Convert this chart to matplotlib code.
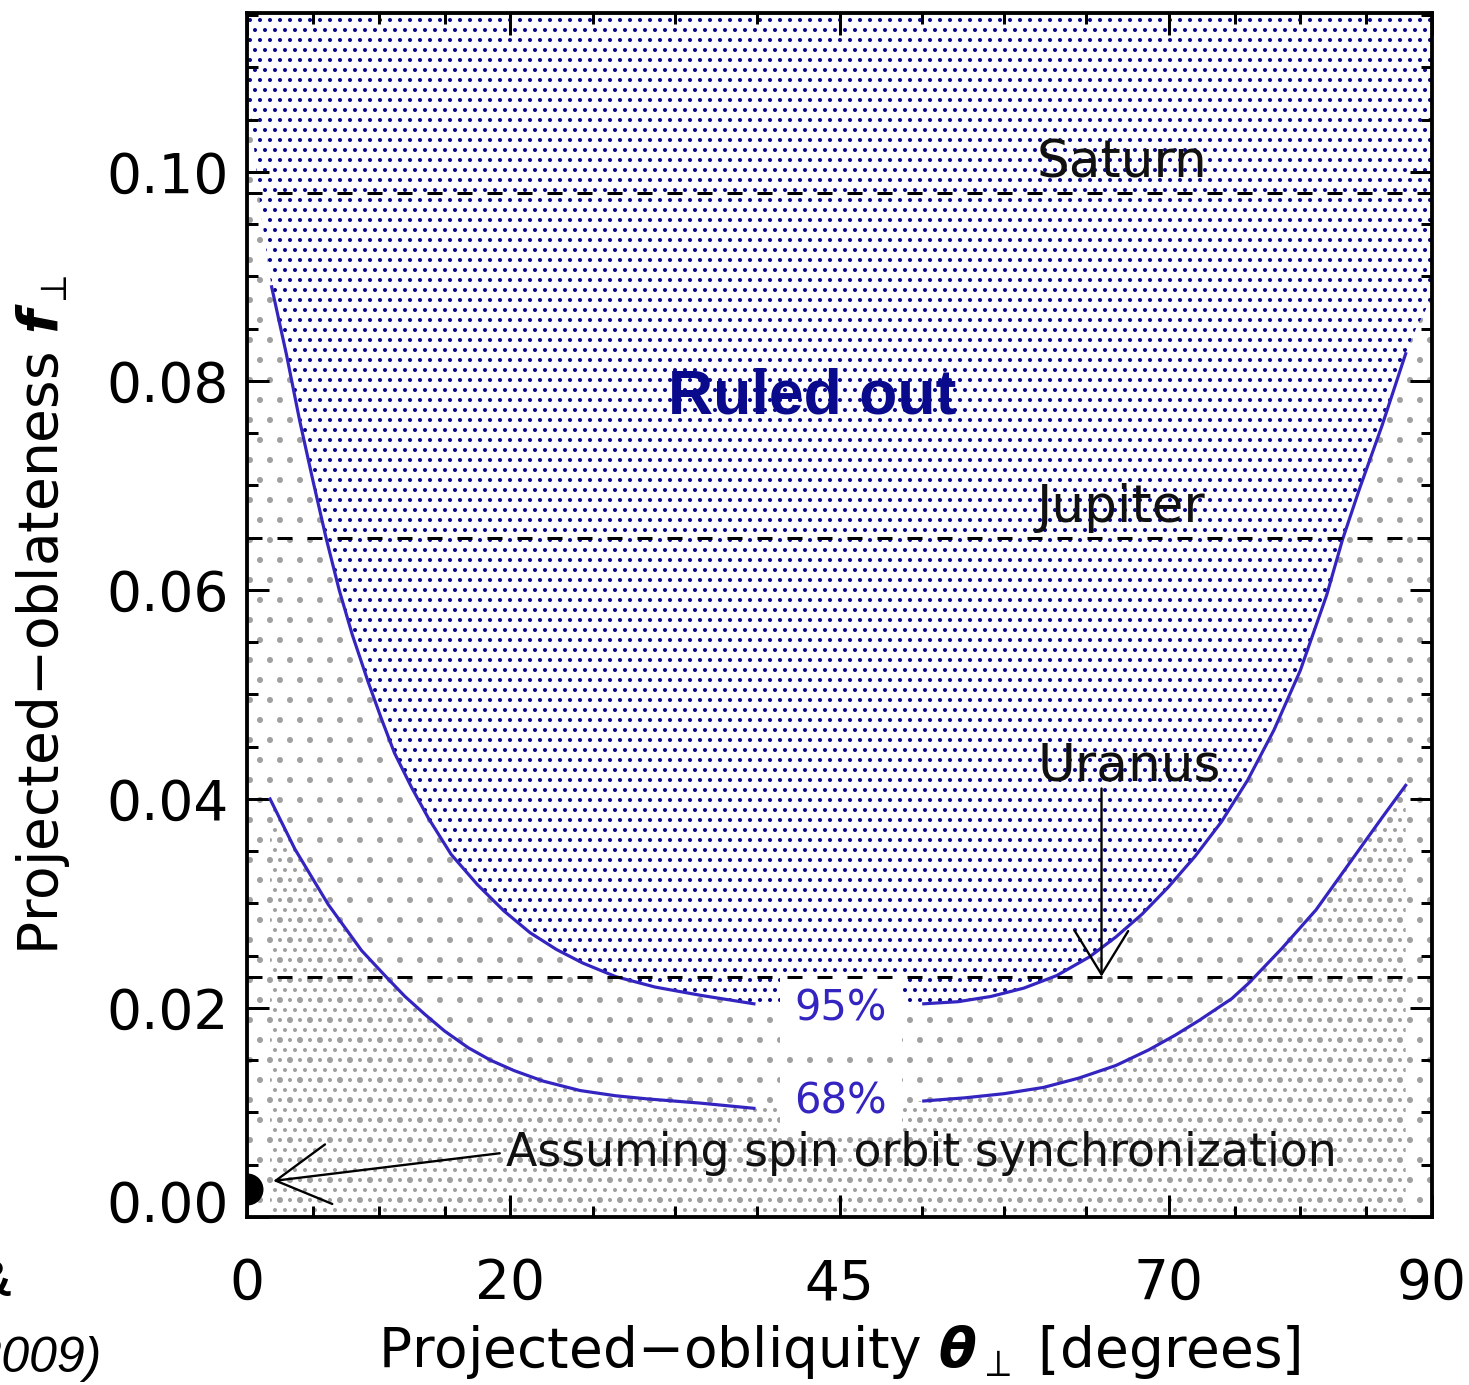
import numpy as np
import matplotlib
matplotlib.use("Agg")
import matplotlib.pyplot as plt
from matplotlib.ticker import FixedLocator
from matplotlib.transforms import ScaledTranslation

# 95% confidence contour (two branches, broken where the label sits)
theta95_left = [1.87, 3.0, 4.0, 5.0, 6.0, 7.0, 8.0, 9.2, 10.2, 11.2, 12.5,
                13.76, 15.5, 17.5, 19.5, 21.5, 23.5, 25.5, 28.0, 31.0, 34.5,
                38.5]
f95_left = [0.0890, 0.0825, 0.0762, 0.0705, 0.0650, 0.0600, 0.0557, 0.0512,
            0.0477, 0.0444, 0.0411, 0.0382, 0.0347, 0.0318, 0.0293, 0.0272,
            0.0256, 0.0243, 0.0230, 0.0220, 0.0212, 0.0204]
theta95_right = [51.4, 54.0, 56.5, 59.0, 61.5, 64.0, 66.0, 68.0, 70.0, 72.0,
                 74.0, 76.0, 78.0, 80.0, 82.0, 83.2, 84.5, 86.2, 88.0]
f95_right = [0.0204, 0.0206, 0.0211, 0.0219, 0.0231, 0.0249, 0.0268, 0.0290,
             0.0316, 0.0345, 0.0378, 0.0418, 0.0466, 0.0523, 0.0595, 0.0648,
             0.0697, 0.0757, 0.0826]

# 68% confidence contour
theta68_left = [1.75, 3.64, 6.17, 8.7, 10.7, 12.0, 13.5, 15.0, 16.8, 18.5,
                20.3, 22.5, 25.3, 28.0, 30.4, 34.4, 38.5]
f68_left = [0.0400, 0.0352, 0.0299, 0.0255, 0.0228, 0.0211, 0.0194, 0.0178,
            0.0162, 0.0150, 0.0140, 0.0130, 0.0121, 0.0116, 0.0113, 0.0109,
            0.0104]
theta68_right = [51.4, 54.5, 57.5, 60.5, 63.2, 66.0, 68.5, 70.5, 72.3, 74.8,
                 76.1, 78.6, 81.2, 83.7, 86.2, 88.0]
f68_right = [0.0111, 0.0114, 0.0118, 0.0124, 0.0133, 0.0145, 0.0160, 0.0174,
             0.0188, 0.0209, 0.0224, 0.0257, 0.0294, 0.0338, 0.0382, 0.0413]

# edge of the excluded region beyond the ends of the drawn 95% curve
ruled_edge_left_theta = [0.0, 1.1]
ruled_edge_left_f = [0.1085, 0.0957]
ruled_edge_right_theta = [88.75, 90.0]
ruled_edge_right_f = [0.0849, 0.0880]

# solar-system planets
planet_names = ["Saturn", "Jupiter", "Uranus"]
planet_f = [0.098, 0.065, 0.023]
planet_label_f = [0.0995, 0.0665, 0.0418]

# synchronous-rotation expectation
sync_theta = 0.0
sync_f = 0.0027

x_major = [0, 20, 45, 70, 90]
y_major = [0.00, 0.02, 0.04, 0.06, 0.08, 0.10]
y_labels = ["0.00", "0.02", "0.04", "0.06", "0.08", "0.10"]
x_lim = (0, 90)
y_lim = (0.0, 0.1152)

plt.rcParams["font.family"] = ["DejaVu Sans"]
plt.rcParams["mathtext.fontset"] = "dejavusans"
plt.rcParams["hatch.linewidth"] = 1.2

DPI = 120
fig = plt.figure(figsize=(1469 / DPI, 1385 / DPI), dpi=DPI)
ax = fig.add_axes([247 / 1469, 1 - 1217 / 1385, (1432 - 247) / 1469, (1217 - 13) / 1385])
ax.set_xlim(*x_lim)
ax.set_ylim(*y_lim)

curve_color = "#3424c0"
navy = "#0a0a8c"
speck = "#a0a0a0"

# boundaries of the allowed / excluded regions
t95 = np.array(theta95_left + theta95_right)
f95 = np.array(f95_left + f95_right)
ruled_t = np.concatenate([ruled_edge_left_theta, t95, ruled_edge_right_theta])
ruled_f = np.concatenate([ruled_edge_left_f, f95, ruled_edge_right_f])
t68 = np.array(theta68_left + theta68_right)
f68 = np.array(f68_left + f68_right)

# Monte-Carlo cloud shown as a speckle texture, denser inside the 68% region
ax.fill_between(ruled_t, 0, ruled_f, facecolor="none", edgecolor=speck,
                linewidth=0, hatch=".", zorder=0.5)
ax.fill_between(t68, 0, f68, facecolor="none", edgecolor=speck,
                linewidth=0, hatch="..", zorder=0.6)

# excluded region
ax.fill_between(ruled_t, ruled_f, y_lim[1], facecolor="none", edgecolor=navy,
                linewidth=0, hatch="..", zorder=1)

# contour lines
for tt, ff in [(theta95_left, f95_left), (theta95_right, f95_right),
               (theta68_left, f68_left), (theta68_right, f68_right)]:
    ax.plot(tt, ff, color=curve_color, lw=1.9, zorder=3,
            solid_joinstyle="round")

ax.text(45.1, 0.0188, "95%", color=curve_color, fontsize=25, ha="center",
        va="baseline", zorder=2,
        bbox=dict(boxstyle="square,pad=0.35", facecolor="white", edgecolor="none"))
ax.text(45.1, 0.0099, "68%", color=curve_color, fontsize=25, ha="center",
        va="baseline", zorder=2,
        bbox=dict(boxstyle="square,pad=0.35", facecolor="white", edgecolor="none"))

# planet reference lines
for name, fv, fl in zip(planet_names, planet_f, planet_label_f):
    ax.axhline(fv, color="black", lw=1.8, dashes=(5, 5), zorder=4)
    ax.text(60.0, fl, name, fontsize=31, ha="left", va="baseline",
            color="#111111", zorder=4)

ax.annotate("", xy=(64.9, planet_f[2]), xytext=(64.9, 0.0410),
            arrowprops=dict(arrowstyle="->,head_length=1.3,head_width=0.8",
                            color="black", lw=1.4, shrinkA=0, shrinkB=0,
                            mutation_scale=20), zorder=5)

ax.text(42.9, 0.0769, "Ruled out", color=navy, fontsize=37.5, ha="center",
        va="baseline", fontweight="bold", family="Liberation Sans", zorder=5)

# synchronous rotation point and its annotation
ax.scatter([sync_theta], [sync_f], s=330, color="black", zorder=5, clip_on=True)
ax.text(19.7, 0.0049, "Assuming spin orbit synchronization", fontsize=27.5,
        ha="left", va="baseline", color="#111111", zorder=5)
ax.annotate("", xy=(2.0, 0.00345), xytext=(19.2, 0.0061),
            arrowprops=dict(arrowstyle="->,head_length=1.6,head_width=0.9",
                            color="black", lw=1.4, shrinkA=0, shrinkB=0,
                            mutation_scale=20), zorder=5)

# ticks
minors_x = []
for a, b in zip(x_major[:-1], x_major[1:]):
    minors_x.extend(np.linspace(a, b, 5)[1:-1])
ax.xaxis.set_major_locator(FixedLocator(x_major))
ax.xaxis.set_minor_locator(FixedLocator(minors_x))
ax.yaxis.set_major_locator(FixedLocator(y_major))
ax.yaxis.set_minor_locator(FixedLocator(np.arange(0.005, 0.1151, 0.005)))
ax.set_xticklabels([str(v) for v in x_major])
ax.set_yticklabels(y_labels)
ax.tick_params(which="both", direction="in", top=True, right=True,
               width=1.8, colors="black")
ax.tick_params(which="major", length=13)
ax.tick_params(which="minor", length=6.5)
ax.tick_params(axis="x", which="major", labelsize=33, pad=24)
ax.tick_params(axis="y", which="major", labelsize=33, pad=11)
for s in ax.spines.values():
    s.set_linewidth(2.3)

# lift the zero label off the corner
zero_lbl = ax.yaxis.get_major_ticks()[0].label1
zero_lbl.set_transform(zero_lbl.get_transform() +
                       ScaledTranslation(0, 10 / 72, fig.dpi_scale_trans))

ax.set_xlabel("Projected\u2212obliquity $\\mathbfit{\\theta}_{\\perp}$ [degrees]",
              fontsize=33)
ax.xaxis.set_label_coords(0.5, -0.088)
ax.xaxis.label.set_va("top")
ax.set_ylabel("Projected\u2212oblateness $\\mathbfit{f}_{\\perp}$", fontsize=33)
ax.yaxis.set_label_coords(-0.148, 0.5)

# citation, partly running off the left edge
fig.text(12 / 1469, 1 - 1296 / 1385, "&", ha="right", va="baseline",
         fontsize=30, fontweight="bold", family="Liberation Sans")
fig.text(102 / 1469, 1 - 1372 / 1385, "(2009)", ha="right", va="baseline",
         fontsize=30, style="italic", family="Liberation Sans")

fig.savefig("out.png", dpi=DPI, facecolor="white")
